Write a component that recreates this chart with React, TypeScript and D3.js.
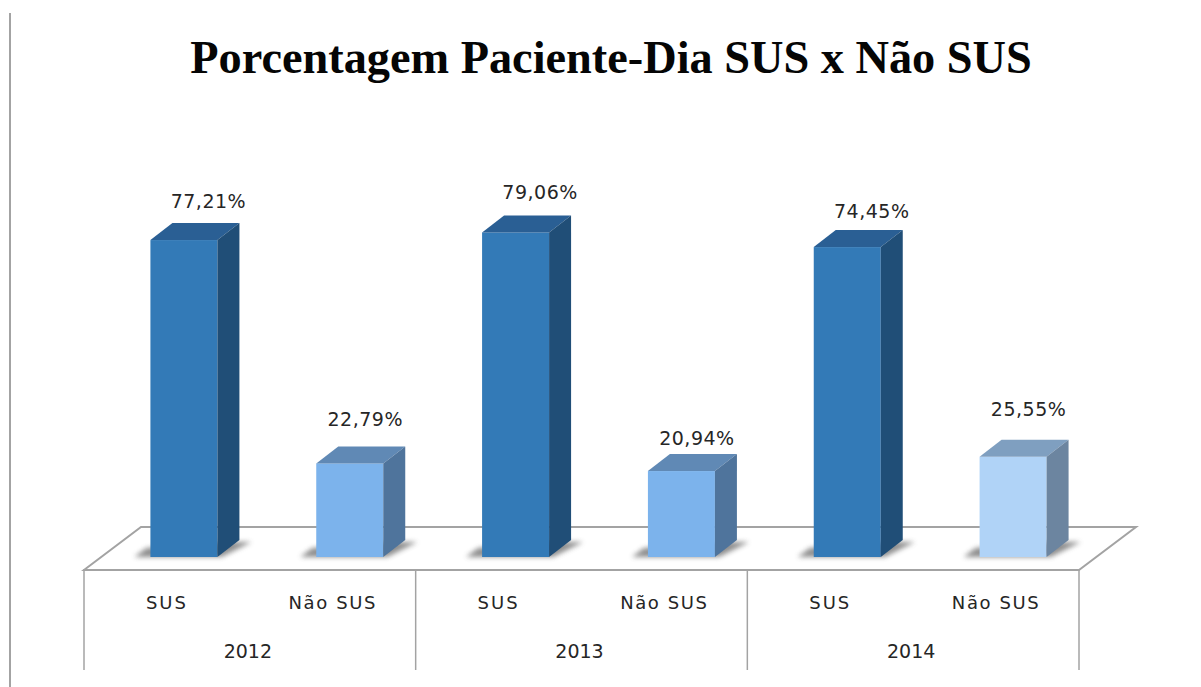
import React from "react";
import * as d3 from "d3";

const years = ["2012", "2013", "2014"];
const categories = ["SUS", "Não SUS"];
const labelValues = ["77,21%", "22,79%", "79,06%", "20,94%", "74,45%", "25,55%"];
// bar heights, in percent-equivalent units
const drawnValues = [77.21, 22.79, 79.06, 20.94, 75.5, 24.4];
const labelGaps = [32, 37, 33, 26, 29, 41];
const frontColors = ["#337ab7", "#7cb3ec", "#337ab7", "#7cb3ec", "#337ab7", "#b0d3f7"];
const topColors = ["#2a5f94", "#6089b5", "#2a5f94", "#6089b5", "#2a5f94", "#7f9fc0"];
const sideColors = ["#204e77", "#4f749c", "#204e77", "#4f749c", "#204e77", "#6c85a0"];
const title = "Porcentagem Paciente-Dia SUS x Não SUS";

const font = "'DejaVu Sans', sans-serif";
const textColor = "#262626";
const lineColor = "#a3a3a3";

export default function App() {
  const floorLeft = 84, floorRight = 1079, floorFront = 570, floorBack = 527, floorDx = 57;
  const baseY = 557, depthX = 22, depthY = 17;
  const yScale = d3.scaleLinear().domain([0, 100]).range([baseY, baseY - 410.5]);
  const groupX = d3.scaleBand<string>().domain(years).range([floorLeft, floorRight]);
  const catX = d3.scaleBand<string>().domain(categories).range([0, groupX.bandwidth()]);
  const barW = 67;
  const items = years.flatMap((yr, i) =>
    categories.map((c, j) => {
      const k = i * 2 + j;
      const cx = groupX(yr)! + catX(c)! + catX.bandwidth() / 2;
      return { k, j, c, cx, x: cx - 16.5, top: yScale(drawnValues[k]), label: labelValues[k] };
    })
  );
  const poly = (pts: [number, number][]) => d3.line()(pts) + "Z";
  return (
    <svg width={1201} height={687} style={{ position: "absolute", left: 0, top: 0, background: "#fff" }}>
      <defs>
        <filter id="soft" x="-30%" y="-80%" width="160%" height="260%">
          <feGaussianBlur stdDeviation="2.5" />
        </filter>
      </defs>
      <line x1={10} x2={10} y1={13} y2={687} stroke={lineColor} strokeWidth={2} />
      <text x={611} y={73} textAnchor="middle" fontFamily="'Liberation Serif', serif" fontWeight="bold" fontSize={46.3} fill="#050505">{title}</text>
      <path d={poly([[floorLeft, floorFront], [floorLeft + floorDx, floorBack], [floorRight + floorDx, floorBack], [floorRight, floorFront]])} fill="#fff" stroke={lineColor} strokeWidth={2} />
      {[0, 1, 2, 3].map((i) => {
        const x = i < 3 ? groupX(years[i])! : floorRight;
        return <line key={i} x1={x} x2={x} y1={floorFront - 1} y2={670} stroke={lineColor} strokeWidth={1.5} />;
      })}
      {items.map((d) => (
        <g key={d.k}>
          <path d={poly([[d.x - 16, baseY], [d.x - 4, baseY - 9], [d.x + barW + 10, baseY - 15], [d.x + barW + 34, baseY - 15], [d.x + barW + 4, baseY]])} fill="#7a7a7a" opacity={0.85} filter="url(#soft)" />
          <rect x={d.x} y={d.top} width={barW} height={baseY - d.top} fill={frontColors[d.k]} />
          <path d={poly([[d.x, d.top], [d.x + depthX, d.top - depthY], [d.x + barW + depthX, d.top - depthY], [d.x + barW, d.top]])} fill={topColors[d.k]} />
          <path d={poly([[d.x + barW, d.top], [d.x + barW + depthX, d.top - depthY], [d.x + barW + depthX, baseY - depthY], [d.x + barW, baseY]])} fill={sideColors[d.k]} />
          <text x={d.x + (d.j === 0 ? 58 : 49)} y={d.top - labelGaps[d.k]} textAnchor="middle" fontFamily={font} fontSize={19} letterSpacing={0.5} fill={textColor}>{d.label}</text>
          <text x={d.cx} y={609} textAnchor="middle" fontFamily={font} fontSize={18} letterSpacing={d.j === 0 ? 2 : 1.6} fill={textColor}>{d.c}</text>
        </g>
      ))}
      {years.map((yr) => (
        <text key={yr} x={groupX(yr)! + groupX.bandwidth() / 2 - 2} y={658} textAnchor="middle" fontFamily={font} fontSize={19} fill={textColor}>{yr}</text>
      ))}
    </svg>
  );
}
